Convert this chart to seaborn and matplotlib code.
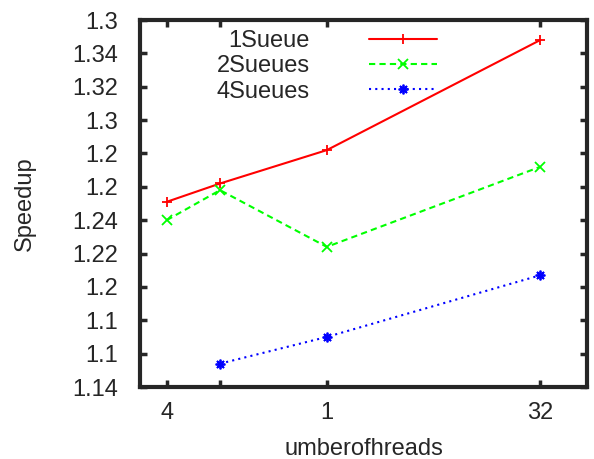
import matplotlib
matplotlib.use("Agg")
import matplotlib.pyplot as plt
import seaborn as sns

sns.set_style("ticks")
plt.rcParams['font.family'] = ['Liberation Sans', 'DejaVu Sans']

# data
threads = [4, 8, 16, 32]
one_queue = [1.251, 1.262, 1.282, 1.348]
two_queues = [1.240, 1.258, 1.224, 1.272]
four_threads = [8, 16, 32]
four_queues = [1.154, 1.170, 1.207]
series_names = ["1Sueue", "2Sueues", "4Sueues"]

y_ticks = [1.36, 1.34, 1.32, 1.30, 1.28, 1.26, 1.24, 1.22, 1.20, 1.18, 1.16, 1.14]
y_tick_labels = ["1.3", "1.34", "1.32", "1.3", "1.2", "1.2", "1.24", "1.22", "1.2", "1.1", "1.1", "1.14"]
x_ticks = [4, 8, 16, 32]
x_tick_labels = ["4", "", "1", "32"]

fig = plt.figure(figsize=(5.94, 4.59), dpi=100)
ax = fig.add_axes([140 / 594, 1 - 387 / 459, 447 / 594, 367 / 459])

styles = [
    (threads, one_queue, "#ff0000", "+", "-"),
    (threads, two_queues, "#00ff00", "x", (0, (3, 2))),
    (four_threads, four_queues, "#0000ff", (8, 2, 0), (0, (1, 2))),
]
for name, (xs, ys, col, mk, ls) in zip(series_names, styles):
    sns.lineplot(x=xs, y=ys, ax=ax, color=col, marker=mk, linestyle=ls,
                 lw=1.5, ms=7, mew=1.3, mec=col, label=name)

fs = 17
ax.set_xlim(2, 35.5)
ax.set_ylim(1.14, 1.36)
ax.set_xticks(x_ticks)
ax.set_xticklabels(x_tick_labels)
ax.set_yticks(y_ticks)
ax.set_yticklabels(y_tick_labels)
ax.tick_params(direction="in", length=5, width=2.5, labelsize=fs,
               top=True, right=True)
ax.tick_params(axis="y", pad=16)
ax.tick_params(axis="x", pad=11)
for sp in ax.spines.values():
    sp.set_linewidth(3)
ax.set_xlabel("umberofhreads", fontsize=fs, labelpad=10)
ax.set_ylabel("Speedup", fontsize=fs, labelpad=26)

ax.legend(loc="upper right", bbox_to_anchor=(437 / 594, 1 - 30 / 459),
          bbox_transform=fig.transFigure, frameon=False, markerfirst=False,
          fontsize=fs, handlelength=2.9, handletextpad=2.5, labelspacing=0.14,
          borderpad=0, borderaxespad=0, numpoints=1)

fig.savefig("out.png", dpi=100)
